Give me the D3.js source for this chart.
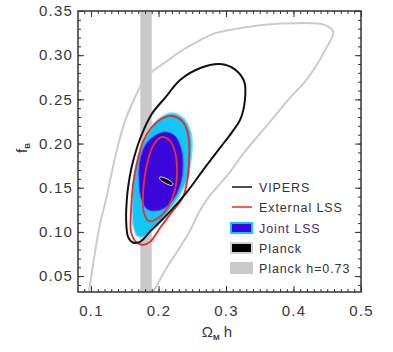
<!DOCTYPE html>
<html lang="en">
<head>
<meta charset="utf-8">
<script src="https://cdnjs.cloudflare.com/ajax/libs/d3/7.8.5/d3.min.js"></script>
<style>
  body { margin: 0; background: #fff; }
  text { font-family: "Liberation Sans", Arial, sans-serif; fill: #383838; }
</style>
</head>
<body>
<script>
// axis ticks
const xTicks = [0.1, 0.2, 0.3, 0.4, 0.5];
const yTicks = [0.05, 0.10, 0.15, 0.20, 0.25, 0.30, 0.35];

// Planck h=0.73 band (Omega_m h range)
const planckBand = [0.173, 0.190];

// contours, [Omega_m h, f_B]
const vipersOuter = [[0.095,0.020],[0.097,0.032],[0.104,0.068],[0.113,0.108],[0.122,0.136],[0.131,0.168],[0.140,0.198],
  [0.152,0.229],[0.165,0.252],[0.177,0.270],[0.190,0.281],[0.210,0.292],[0.232,0.304],[0.262,0.317],[0.284,0.325],
  [0.333,0.332],[0.395,0.336],[0.447,0.334],[0.459,0.326],[0.447,0.306],[0.432,0.286],[0.417,0.270],[0.395,0.252],
  [0.358,0.218],[0.328,0.191],[0.303,0.165],[0.276,0.141],[0.262,0.125],[0.247,0.102],[0.227,0.077],[0.210,0.057],
  [0.198,0.040],[0.192,0.032],[0.186,0.020]];
const vipers = [[0.162,0.088],[0.155,0.094],[0.152,0.114],[0.153,0.136],[0.155,0.151],[0.161,0.176],[0.173,0.206],
  [0.190,0.2335],[0.210,0.252],[0.232,0.272],[0.262,0.2855],[0.291,0.290],[0.313,0.284],[0.327,0.270],[0.328,0.249],
  [0.321,0.227],[0.309,0.213],[0.291,0.195],[0.266,0.170],[0.242,0.145],[0.217,0.123],[0.187,0.100],[0.173,0.089]];
const extOuter = [[0.2185,0.2312],[0.2333,0.2267],[0.2422,0.2154],[0.2452,0.2018],[0.2452,0.1792],[0.2422,0.1566],
  [0.2363,0.1396],[0.2200,0.1226],[0.2022,0.1045],[0.1874,0.0887],[0.1770,0.0853],[0.1667,0.0887],[0.1593,0.1000],
  [0.1593,0.1249],[0.1622,0.1532],[0.1681,0.1781],[0.1770,0.2018],[0.1889,0.2176],[0.2037,0.2278]];
const extInner = [[0.2067,0.2075],[0.2170,0.2029],[0.2244,0.1905],[0.2274,0.1701],[0.2244,0.1475],[0.2141,0.1283],
  [0.1993,0.1158],[0.1859,0.1124],[0.1785,0.1215],[0.1770,0.1419],[0.1800,0.1645],[0.1844,0.1815],[0.1919,0.1973],
  [0.1993,0.2052]];
const jointOuter = [[0.220,0.2346],[0.2348,0.2301],[0.2452,0.2188],[0.2496,0.2041],[0.2481,0.1815],[0.2422,0.1588],
  [0.2289,0.1385],[0.2126,0.1204],[0.1948,0.1045],[0.1770,0.0943],[0.1681,0.0955],[0.1622,0.1079],[0.1607,0.1305],
  [0.1622,0.1532],[0.1667,0.1758],[0.1756,0.1984],[0.1874,0.2154],[0.2022,0.2290]];
const jointInner = [[0.2111,0.2131],[0.2244,0.2086],[0.2333,0.1950],[0.2363,0.1758],[0.2333,0.1566],[0.2244,0.1396],
  [0.2111,0.1283],[0.1963,0.1238],[0.1830,0.1260],[0.1741,0.1385],[0.1711,0.1588],[0.1726,0.1815],[0.1815,0.1995],
  [0.1963,0.2097]];
const planck = [[0.2022,0.1622],[0.2067,0.1617],[0.2126,0.1600],[0.2185,0.1571],[0.2215,0.1543],[0.2200,0.1526],
  [0.2156,0.1532],[0.2096,0.1554],[0.2037,0.1583],[0.2015,0.1605]];

const legendNames = ["VIPERS", "External LSS", "Joint LSS", "Planck", "Planck h=0.73"];

const W = 393, H = 352;
const pl = 78, pr = 361, pt = 11, pb = 292;

const svg = d3.select("body").append("svg")
    .attr("width", W)
    .attr("height", H);

const x = d3.scaleLinear().domain([0.0807, 0.5]).range([pl, pr]);
const y = d3.scaleLinear().domain([0.032, 0.35]).range([pb, pt]);

svg.append("clipPath").attr("id", "plot")
  .append("rect")
    .attr("x", pl).attr("y", pt)
    .attr("width", pr - pl).attr("height", pb - pt);

const g = svg.append("g").attr("clip-path", "url(#plot)");

const closed = d3.line().x(d => x(d[0])).y(d => y(d[1])).curve(d3.curveCatmullRomClosed.alpha(0.5));
const open = d3.line().x(d => x(d[0])).y(d => y(d[1])).curve(d3.curveCatmullRom.alpha(0.5));

// gray band
g.append("rect")
    .attr("x", x(planckBand[0]))
    .attr("y", pt)
    .attr("width", x(planckBand[1]) - x(planckBand[0]))
    .attr("height", pb - pt)
    .attr("fill", "#c9c9c9");

g.append("path").attr("d", open(vipersOuter))
    .attr("fill", "none").attr("stroke", "#cbcbcb").attr("stroke-width", 2);

g.append("path").attr("d", closed(jointOuter))
    .attr("fill", "#12c6f7").attr("stroke", "#7fdcfb").attr("stroke-width", 1.5);
g.append("path").attr("d", closed(jointInner))
    .attr("fill", "#3b06dc").attr("stroke", "#5a3ff0").attr("stroke-width", 1);

g.append("path").attr("d", closed(extInner))
    .attr("fill", "none").attr("stroke", "#e8322a").attr("stroke-width", 1.8);
g.append("path").attr("d", closed(extOuter))
    .attr("fill", "none").attr("stroke", "#f0281e").attr("stroke-width", 1.8);

g.append("path").attr("d", closed(vipers))
    .attr("fill", "none").attr("stroke", "#111").attr("stroke-width", 2);

g.append("path").attr("d", closed(planck))
    .attr("fill", "#000").attr("stroke", "#e0e0e0").attr("stroke-width", 1);

// axes, ticks pointing inward
const xMinor = d3.range(9, 51).map(d => d / 100);
const yMinor = d3.range(4, 36).map(d => d / 100);

function axes(sel, axisFn, scale, pos, major, minor, labels, pad) {
  sel.append("g").attr("transform", pos)
    .call(axisFn(scale).tickValues(minor).tickSize(-3).tickFormat(""));
  sel.append("g").attr("transform", pos)
    .call(axisFn(scale).tickValues(major).tickSize(-6).tickPadding(pad)
      .tickFormat(labels ? labels : ""));
}

const fmtX = d3.format(".1f"), fmtY = d3.format(".2f");
axes(svg, d3.axisBottom, x, `translate(0,${pb})`, xTicks, xMinor, fmtX, 13);
axes(svg, d3.axisTop, x, `translate(0,${pt})`, xTicks, xMinor, null, 0);
axes(svg, d3.axisLeft, y, `translate(${pl},0)`, yTicks, yMinor, fmtY, 5);
axes(svg, d3.axisRight, y, `translate(${pr},0)`, yTicks, yMinor, null, 0);

svg.selectAll(".domain").remove();
svg.selectAll(".tick line").attr("stroke", "#333").attr("stroke-width", 1);
svg.selectAll(".tick text")
    .style("font-family", "'Liberation Sans', Arial, sans-serif")
    .style("font-size", "15px")
    .style("letter-spacing", "1.2px")
    .attr("fill", "#3a3a3a");

svg.append("rect")
    .attr("x", pl).attr("y", pt)
    .attr("width", pr - pl).attr("height", pb - pt)
    .attr("fill", "none").attr("stroke", "#333").attr("stroke-width", 1.5);

// axis titles
const xt = svg.append("text")
    .attr("x", 217).attr("y", 337)
    .attr("text-anchor", "middle")
    .style("font-size", "15px");
xt.append("tspan").text("Ω");
xt.append("tspan").attr("dy", 3).style("font-size", "8px").style("font-weight", "bold").text("M");
xt.append("tspan").attr("dy", -3).text(" h");

const yt = svg.append("text")
    .attr("transform", "translate(27,148) rotate(-90)")
    .attr("text-anchor", "middle")
    .style("font-size", "15px");
yt.append("tspan").text("f");
yt.append("tspan").attr("dy", 3).style("font-size", "8px").style("font-weight", "bold").text("B");

// legend
const ly = [187, 207, 228, 248, 268];
const lg = svg.append("g");
lg.append("line").attr("x1", 232).attr("x2", 252).attr("y1", ly[0]).attr("y2", ly[0])
    .attr("stroke", "#111").attr("stroke-width", 1.5);
lg.append("line").attr("x1", 232).attr("x2", 252).attr("y1", ly[1]).attr("y2", ly[1])
    .attr("stroke", "#f0281e").attr("stroke-width", 1.5);
lg.append("rect").attr("x", 231).attr("y", ly[2] - 5).attr("width", 21).attr("height", 10)
    .attr("fill", "#3b06dc").attr("stroke", "#12c6f7").attr("stroke-width", 2);
lg.append("rect").attr("x", 231).attr("y", ly[3] - 5).attr("width", 21).attr("height", 10)
    .attr("fill", "#000").attr("stroke", "#d0d0d0").attr("stroke-width", 2);
lg.append("rect").attr("x", 230).attr("y", ly[4] - 6).attr("width", 23).attr("height", 12)
    .attr("fill", "#c9c9c9");

lg.selectAll("text.leg")
  .data(legendNames)
  .join("text")
    .attr("class", "leg")
    .attr("x", 259)
    .attr("y", (d, i) => ly[i] + 4.5)
    .style("font-size", "12.5px")
    .style("letter-spacing", "0.9px")
    .style("fill", (d, i) => i === 2 ? "#4b2a6e" : "#333")
    .text(d => d);
</script>
</body>
</html>
